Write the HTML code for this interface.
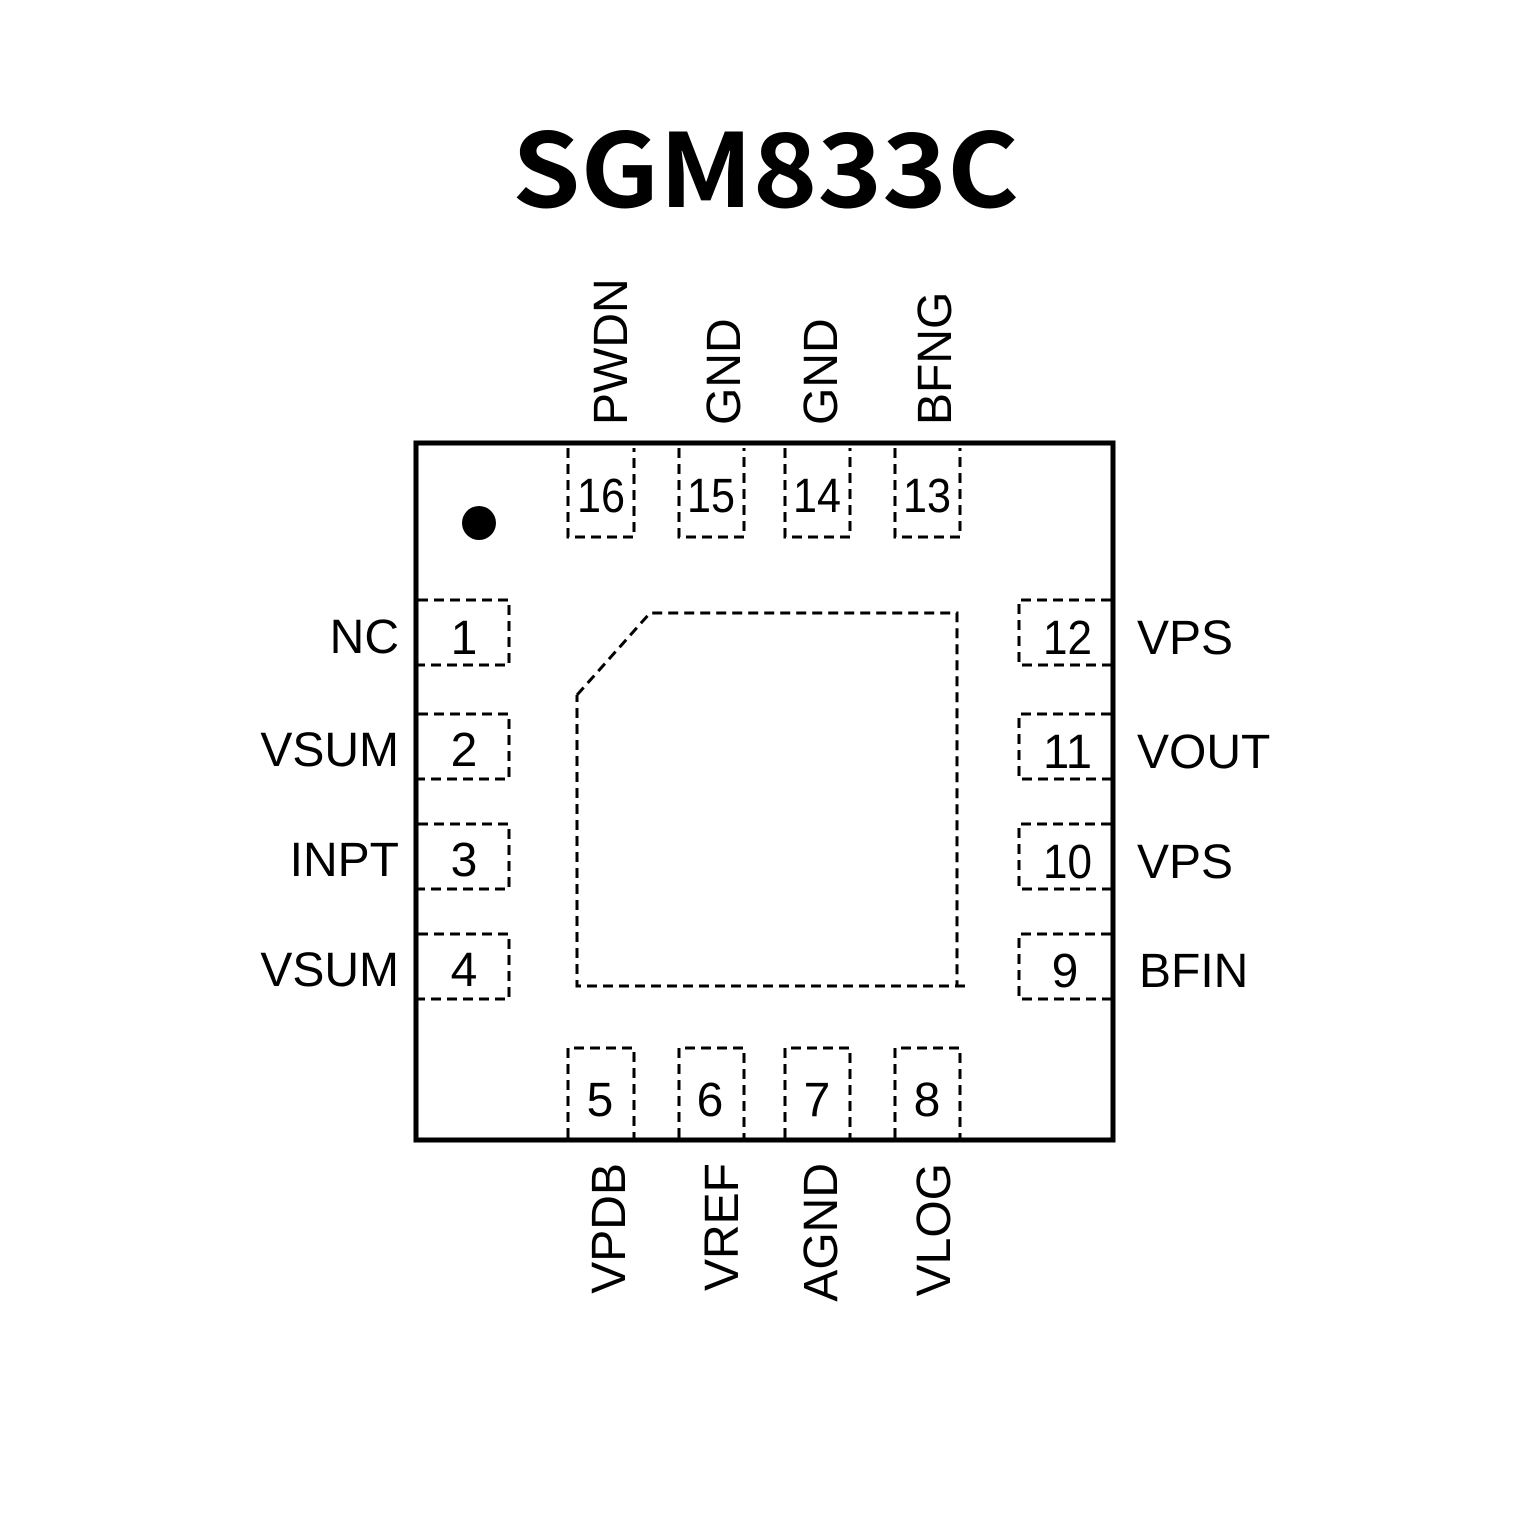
<!DOCTYPE html>
<html>
<head>
<meta charset="utf-8">
<style>
  html, body { margin: 0; padding: 0; background: #ffffff; }
  body { width: 1535px; height: 1535px; overflow: hidden; }
  svg { display: block; }
  .lbl { font-family: "Liberation Sans", Arial, sans-serif; font-size: 48px; fill: #000; }
  .num { font-family: "Liberation Sans", Arial, sans-serif; font-size: 48px; fill: #000; }
  .title { font-family: "Noto Sans CJK SC", "Liberation Sans", sans-serif; font-weight: 700; font-size: 102px; fill: #000; }
  .dash { fill: none; stroke: #000; stroke-width: 3; stroke-dasharray: 10 6; }
</style>
</head>
<body>
<svg width="1535" height="1535" viewBox="0 0 1535 1535" xmlns="http://www.w3.org/2000/svg">
  <rect x="0" y="0" width="1535" height="1535" fill="#ffffff"/>

  <!-- Title -->
  <text class="title" x="512" y="207" textLength="507" lengthAdjust="spacingAndGlyphs">SGM833C</text>

  <!-- Package outline -->
  <rect x="416" y="443" width="697" height="697" fill="none" stroke="#000" stroke-width="5"/>

  <!-- Pin 1 dot -->
  <circle cx="479" cy="523" r="17" fill="#000"/>

  <!-- Exposed pad -->
  <path class="dash" d="M577,695 L650,613 L957,613 L957,986"/>
  <path class="dash" d="M965,986 L577,986 L577,695"/>

  <!-- Top pads -->
  <path class="dash" d="M568,448 L568,537 L634,537 L634,448"/>
  <path class="dash" d="M679,448 L679,537 L744,537 L744,448"/>
  <path class="dash" d="M785,448 L785,537 L850,537 L850,448"/>
  <path class="dash" d="M895,448 L895,537 L960,537 L960,448"/>

  <!-- Bottom pads -->
  <path class="dash" d="M568,1138 L568,1048 L634,1048 L634,1138"/>
  <path class="dash" d="M679,1138 L679,1048 L744,1048 L744,1138"/>
  <path class="dash" d="M785,1138 L785,1048 L850,1048 L850,1138"/>
  <path class="dash" d="M895,1138 L895,1048 L960,1048 L960,1138"/>

  <!-- Left pads -->
  <path class="dash" d="M418,600 L509,600 L509,665 L418,665"/>
  <path class="dash" d="M418,714 L509,714 L509,779 L418,779"/>
  <path class="dash" d="M418,824 L509,824 L509,889 L418,889"/>
  <path class="dash" d="M418,934 L509,934 L509,999 L418,999"/>

  <!-- Right pads -->
  <path class="dash" d="M1111,600 L1019,600 L1019,665 L1111,665"/>
  <path class="dash" d="M1111,714 L1019,714 L1019,779 L1111,779"/>
  <path class="dash" d="M1111,824 L1019,824 L1019,889 L1111,889"/>
  <path class="dash" d="M1111,934 L1019,934 L1019,999 L1111,999"/>

  <!-- Top pad numbers -->
  <text class="num" x="577" y="512" textLength="48" lengthAdjust="spacingAndGlyphs">16</text>
  <text class="num" x="687" y="512" textLength="48" lengthAdjust="spacingAndGlyphs">15</text>
  <text class="num" x="793" y="512" textLength="48" lengthAdjust="spacingAndGlyphs">14</text>
  <text class="num" x="903" y="512" textLength="48" lengthAdjust="spacingAndGlyphs">13</text>

  <!-- Bottom pad numbers -->
  <text class="num" x="600" y="1116" text-anchor="middle">5</text>
  <text class="num" x="710" y="1116" text-anchor="middle">6</text>
  <text class="num" x="817" y="1116" text-anchor="middle">7</text>
  <text class="num" x="927" y="1116" text-anchor="middle">8</text>

  <!-- Left pad numbers -->
  <text class="num" x="464" y="654" text-anchor="middle">1</text>
  <text class="num" x="464" y="766" text-anchor="middle">2</text>
  <text class="num" x="464" y="876" text-anchor="middle">3</text>
  <text class="num" x="464" y="986" text-anchor="middle">4</text>

  <!-- Right pad numbers -->
  <text class="num" x="1043" y="654" textLength="49" lengthAdjust="spacingAndGlyphs">12</text>
  <text class="num" x="1043" y="768" textLength="49" lengthAdjust="spacingAndGlyphs">11</text>
  <text class="num" x="1043" y="878" textLength="49" lengthAdjust="spacingAndGlyphs">10</text>
  <text class="num" x="1065" y="987" text-anchor="middle">9</text>

  <!-- Left labels -->
  <text class="lbl" x="399" y="653" text-anchor="end">NC</text>
  <text class="lbl" x="399" y="766" text-anchor="end">VSUM</text>
  <text class="lbl" x="399" y="876" text-anchor="end">INPT</text>
  <text class="lbl" x="399" y="986" text-anchor="end">VSUM</text>

  <!-- Right labels -->
  <text class="lbl" x="1137" y="654">VPS</text>
  <text class="lbl" x="1137" y="768">VOUT</text>
  <text class="lbl" x="1137" y="878">VPS</text>
  <text class="lbl" x="1139" y="987">BFIN</text>

  <!-- Top labels (rotated) -->
  <text class="lbl" transform="translate(627,425) rotate(-90)">PWDN</text>
  <text class="lbl" transform="translate(740,425) rotate(-90)">GND</text>
  <text class="lbl" transform="translate(837,425) rotate(-90)">GND</text>
  <text class="lbl" transform="translate(951,425) rotate(-90)">BFNG</text>

  <!-- Bottom labels (rotated) -->
  <text class="lbl" text-anchor="end" transform="translate(625,1163) rotate(-90)">VPDB</text>
  <text class="lbl" text-anchor="end" transform="translate(738,1163) rotate(-90)">VREF</text>
  <text class="lbl" text-anchor="end" transform="translate(837,1163) rotate(-90)">AGND</text>
  <text class="lbl" text-anchor="end" transform="translate(950,1163) rotate(-90)">VLOG</text>
</svg>
</body>
</html>
